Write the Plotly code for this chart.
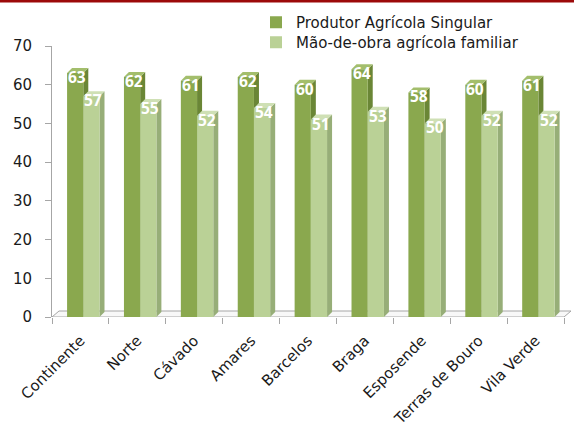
import plotly.graph_objects as go

categories = ["Continente", "Norte", "Cávado", "Amares", "Barcelos", "Braga",
              "Esposende", "Terras de Bouro", "Vila Verde"]
produtor = [63, 62, 61, 62, 60, 64, 58, 60, 61]
mao_obra = [57, 55, 52, 54, 51, 53, 50, 52, 52]
series_names = ["Produtor Agrícola Singular", "Mão-de-obra agrícola familiar"]

FONT = "DejaVu Sans"
W, H = 574, 427
ML, MR, MT, MB = 52, 3, 46, 110
XPU = (564 - 52) / 9.0          # px per category unit
PLOT_W = W - ML - MR
XMAX = -0.5 + PLOT_W / XPU
PLOT_H = H - MT - MB
YPU = PLOT_H / 70.0             # px per value unit

DX_PX, DY_PX = 5, 5
dxu, dyu = DX_PX / XPU, DY_PX / YPU
FDX, FDY = 7 / XPU, 6 / YPU

dark_front, dark_side, dark_top = "#8AA84E", "#6A8636", "#A3BE6C"
light_front, light_side, light_top = "#BAD196", "#97AE78", "#CFE0B5"

BW = 0.285
OFF1, OFF2 = -0.235, 0.05

xs = list(range(len(categories)))

fig = go.Figure()
fig.add_trace(go.Bar(x=xs, y=produtor, name=series_names[0], width=BW, offset=OFF1,
                     legend="legend",
                     marker=dict(color=dark_front, line=dict(width=0))))
fig.add_trace(go.Bar(x=xs, y=mao_obra, name=series_names[1], width=BW, offset=OFF2,
                     legend="legend2",
                     marker=dict(color=light_front, line=dict(width=0))))

shapes = []
# floor
shapes.append(dict(type="path", xref="x", yref="y", layer="below",
                   path=f"M{-0.5},0 L{8.5},0 L{8.5+FDX},{FDY} L{-0.5+FDX},{FDY} Z",
                   fillcolor="#F8F8F8", line=dict(color="#A6A6A6", width=1)))


def faces(vals, off, side_c, top_c):
    out = []
    for i, v in enumerate(vals):
        xl = i + off
        xr = xl + BW
        out.append(dict(type="path", xref="x", yref="y", layer="below",
                        path=f"M{xr},0 L{xr},{v} L{xr+dxu},{v+dyu} L{xr+dxu},{dyu} Z",
                        fillcolor=side_c, line=dict(width=0)))
        out.append(dict(type="path", xref="x", yref="y", layer="below",
                        path=f"M{xl},{v} L{xr},{v} L{xr+dxu},{v+dyu} L{xl+dxu},{v+dyu} Z",
                        fillcolor=top_c, line=dict(width=0)))
    return out


shapes += faces(produtor, OFF1, dark_side, dark_top)
shapes += faces(mao_obra, OFF2, light_side, light_top)

# red rule at top
shapes.append(dict(type="rect", xref="paper", yref="paper", xsizemode="pixel", ysizemode="pixel",
                   xanchor=0, yanchor=1, x0=-ML, x1=W - ML, y0=MT - 2.5, y1=MT + 1,
                   fillcolor="#9C0A0A", line=dict(width=0)))

annotations = []
for vals, off in ((produtor, OFF1), (mao_obra, OFF2)):
    for i, v in enumerate(vals):
        annotations.append(dict(x=i + off + BW / 2, y=v, xref="x", yref="y", text=str(v),
                                showarrow=False, xshift=2, yshift=-4, yanchor="middle",
                                font=dict(family="Open Sans", size=15.5, color="white",
                                          weight="bold")))


def legend_at(top_px, left_px):
    return dict(x=(left_px - ML) / PLOT_W, y=1 + (MT - top_px) / PLOT_H,
                xanchor="left", yanchor="top",
                font=dict(family=FONT, size=15, color="#1A1A1A"),
                bgcolor="rgba(0,0,0,0)", itemclick=False, itemdoubleclick=False)


fig.update_layout(
    width=W, height=H,
    margin=dict(l=ML, r=MR, t=MT, b=MB, pad=0, autoexpand=False),
    paper_bgcolor="white", plot_bgcolor="rgba(0,0,0,0)",
    font=dict(family=FONT, size=15, color="#1A1A1A"),
    barmode="overlay",
    showlegend=True,
    legend=legend_at(6, 256),
    legend2=legend_at(26, 256),
    shapes=shapes,
    annotations=annotations,
)
fig.update_xaxes(range=[-0.5, XMAX], tickmode="array", tickvals=xs, ticktext=categories,
                 tickangle=-45, ticks="", showline=False, showgrid=False, zeroline=False,
                 ticklabelstandoff=11, automargin=False,
                 tickfont=dict(family=FONT, size=15, color="#1A1A1A"),
                 minor=dict(tick0=-0.5, dtick=1, ticks="outside", ticklen=6,
                            tickcolor="#A6A6A6", showgrid=False))
fig.update_yaxes(range=[0, 70], dtick=10, ticks="outside", ticklen=6, tickcolor="#A6A6A6",
                 showline=True, linecolor="#A6A6A6", linewidth=1, showgrid=False, zeroline=False,
                 ticklabelstandoff=10, automargin=False,
                 tickfont=dict(family=FONT, size=15, color="#1A1A1A"))

fig.write_html("out.html")
